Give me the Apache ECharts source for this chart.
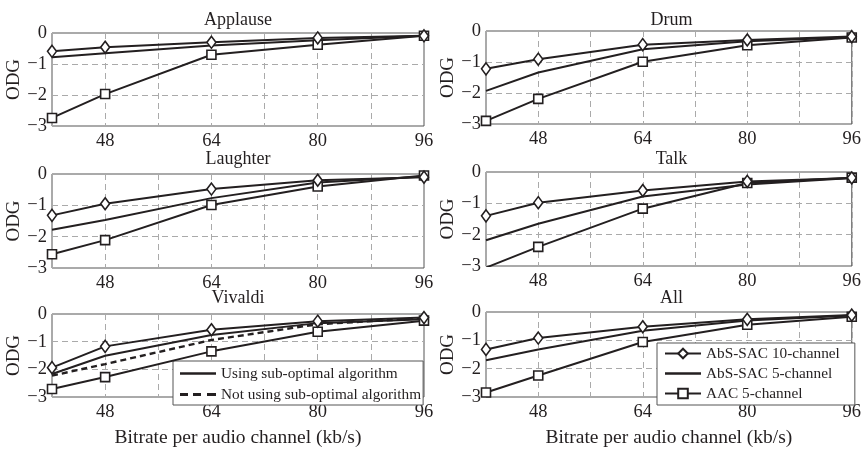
<!DOCTYPE html>
<html>
<head>
<meta charset="utf-8">
<script src="https://cdn.jsdelivr.net/npm/echarts@6/dist/echarts.min.js"></script>
<style>
  html, body { margin: 0; padding: 0; background: #fff; }
  #chart { width: 864px; height: 449px; }
</style>
</head>
<body>
<div id="chart"></div>
<script>
  // bitrate per audio channel (kb/s)
  const bitrate = [40, 48, 64, 80, 96];
  const xTickLabels = [48, 64, 80, 96];
  const yTicks = [0, -1, -2, -3];

  const titles = ['Applause', 'Drum', 'Laughter', 'Talk', 'Vivaldi', 'All'];

  // ODG values: AbS-SAC 10-channel (diamond), AbS-SAC 5-channel (plain), AAC 5-channel (square)
  const applause10 = [-0.59, -0.46, -0.30, -0.16, -0.09];
  const applause5 = [-0.78, -0.65, -0.40, -0.23, -0.09];
  const applauseAAC = [-2.74, -1.97, -0.70, -0.38, -0.09];

  const drum10 = [-1.22, -0.91, -0.44, -0.29, -0.18];
  const drum5 = [-1.93, -1.34, -0.59, -0.33, -0.20];
  const drumAAC = [-2.90, -2.19, -0.99, -0.46, -0.21];

  const laughter10 = [-1.32, -0.95, -0.48, -0.20, -0.10];
  const laughter5 = [-1.78, -1.47, -0.77, -0.27, -0.08];
  const laughterAAC = [-2.56, -2.11, -0.99, -0.40, -0.05];

  const talk10 = [-1.40, -0.98, -0.59, -0.30, -0.19];
  const talk5 = [-2.18, -1.65, -0.78, -0.40, -0.19];
  const talkAAC = [-3.05, -2.39, -1.17, -0.35, -0.18];

  const vivaldi10 = [-1.94, -1.17, -0.57, -0.26, -0.13];
  const vivaldiUsing = [-2.17, -1.51, -0.76, -0.33, -0.19];
  const vivaldiNotUsing = [-2.23, -1.81, -0.94, -0.37, -0.15];
  const vivaldiAAC = [-2.71, -2.28, -1.35, -0.64, -0.24];

  const all10 = [-1.32, -0.92, -0.52, -0.26, -0.11];
  const all5 = [-1.70, -1.32, -0.66, -0.30, -0.12];
  const allAAC = [-2.84, -2.24, -1.06, -0.45, -0.17];

  const ink = '#231f20';
  const font = 'Liberation Serif';

  // plot boxes [left, top, width, height] and title tops per panel
  const boxes = [
    [52, 33, 372, 93], [486, 31, 371, 93],
    [52, 174, 372, 94], [486, 172, 371, 94],
    [52, 314, 372, 91], [486, 312, 371, 90]
  ];
  const titleTops = [11, 11, 150, 150, 289, 289];

  const grid = boxes.map(b => ({
    left: b[0], top: b[1], width: b[2], height: b[3],
    show: true, borderColor: '#555', borderWidth: 1, backgroundColor: 'transparent'
  }));

  const xAxis = boxes.map((b, i) => ({
    type: 'value', gridIndex: i, min: 40, max: 96, interval: 8,
    name: i >= 4 ? 'Bitrate per audio channel (kb/s)' : '',
    nameLocation: 'middle', nameGap: 31,
    nameTextStyle: { fontFamily: font, fontSize: 19.5, color: ink },
    axisLine: { show: false },
    axisTick: { show: false },
    axisLabel: {
      fontFamily: font, fontSize: 18.5, color: ink, margin: 6,
      formatter: v => xTickLabels.indexOf(v) > -1 ? String(v) : ''
    },
    splitLine: { show: true, lineStyle: { color: '#aaa', type: [6, 4], width: 1 } }
  }));

  const yAxis = boxes.map((b, i) => ({
    type: 'value', gridIndex: i, min: -3, max: 0, interval: 1,
    name: 'ODG', nameLocation: 'middle', nameGap: 24, nameRotate: 90,
    nameTextStyle: { fontFamily: font, fontSize: 19, color: ink },
    axisLine: { show: false },
    axisTick: { show: false },
    axisLabel: {
      fontFamily: font, fontSize: 18.5, color: ink, margin: 5,
      formatter: v => yTicks.indexOf(v) > -1 ? String(v).replace('-', '\u2212') : ''
    },
    splitLine: { show: true, lineStyle: { color: '#aaa', type: [6, 4], width: 1 } }
  }));

  const title = boxes.map((b, i) => ({
    text: titles[i],
    left: b[0] + b[2] / 2, top: titleTops[i], textAlign: 'center', padding: 0,
    textStyle: { fontFamily: font, fontSize: 18, fontWeight: 'normal', color: ink }
  }));

  function pairs(vals) {
    return bitrate.map((x, k) => [x, vals[k]]);
  }

  function mkSeries(name, vals, gi, kind) {
    const s = {
      name, type: 'line', xAxisIndex: gi, yAxisIndex: gi,
      data: pairs(vals), animation: false, silent: true, z: 3,
      lineStyle: { color: ink, width: 2, type: kind === 'dashed' ? [6, 4] : 'solid' },
      itemStyle: { color: '#fff', borderColor: ink, borderWidth: 1.6 },
      symbol: 'none'
    };
    if (kind === 'plain' || kind === 'dashed') s.itemStyle = { color: ink };
    if (kind === 'dashed') s.lineStyle.width = 2.4;
    if (kind === 'diamond') { s.symbol = 'diamond'; s.symbolSize = [9, 12]; s.z = 4; }
    if (kind === 'square') { s.symbol = 'rect'; s.symbolSize = 9; s.z = 4; }
    return s;
  }

  const clips = [
    [applause10, applause5, applauseAAC],
    [drum10, drum5, drumAAC],
    [laughter10, laughter5, laughterAAC],
    [talk10, talk5, talkAAC]
  ];

  const series = [];
  clips.forEach((c, gi) => {
    series.push(mkSeries('AbS-SAC 5-channel', c[1], gi, 'plain'));
    series.push(mkSeries('AAC 5-channel', c[2], gi, 'square'));
    series.push(mkSeries('AbS-SAC 10-channel', c[0], gi, 'diamond'));
  });
  series.push(mkSeries('Using sub-optimal algorithm', vivaldiUsing, 4, 'plain'));
  series.push(mkSeries('Not using sub-optimal algorithm', vivaldiNotUsing, 4, 'dashed'));
  series.push(mkSeries('AAC 5-channel', vivaldiAAC, 4, 'square'));
  series.push(mkSeries('AbS-SAC 10-channel', vivaldi10, 4, 'diamond'));
  series.push(mkSeries('AbS-SAC 5-channel', all5, 5, 'plain'));
  series.push(mkSeries('AAC 5-channel', allAAC, 5, 'square'));
  series.push(mkSeries('AbS-SAC 10-channel', all10, 5, 'diamond'));

  // legend icons for lines without markers
  const solidIcon = 'path://M0,0h36v2.4h-36z';
  const dashedIcon = 'path://M0,0h8v3h-8z M13,0h8v3h-8z M27,0h9v3h-9z';

  const legendBase = {
    orient: 'vertical', selectedMode: false,
    backgroundColor: '#fff', borderColor: '#555', borderWidth: 1, borderRadius: 0,
    itemWidth: 36, itemHeight: 12,
    textStyle: { fontFamily: font, fontSize: 15.3, color: ink, lineHeight: 14 }
  };

  const legend = [
    Object.assign({}, legendBase, {
      data: [
        'AbS-SAC 10-channel',
        { name: 'AbS-SAC 5-channel', icon: solidIcon, itemStyle: { color: ink, borderWidth: 0 } },
        'AAC 5-channel'
      ],
      left: 657, top: 343, itemGap: 5, padding: [3, 15, 4, 7]
    }),
    Object.assign({}, legendBase, {
      data: [
        { name: 'Using sub-optimal algorithm', icon: solidIcon, itemStyle: { color: ink, borderWidth: 0 } },
        { name: 'Not using sub-optimal algorithm', icon: dashedIcon, itemStyle: { color: ink, borderWidth: 0 } }
      ],
      left: 173, top: 361, itemGap: 6, padding: [5, 2, 3, 7]
    })
  ];

  const chart = echarts.init(document.getElementById('chart'), null, { renderer: 'canvas' });
  chart.setOption({
    backgroundColor: '#fff',
    animation: false,
    title, grid, xAxis, yAxis, legend, series
  });
</script>
</body>
</html>
